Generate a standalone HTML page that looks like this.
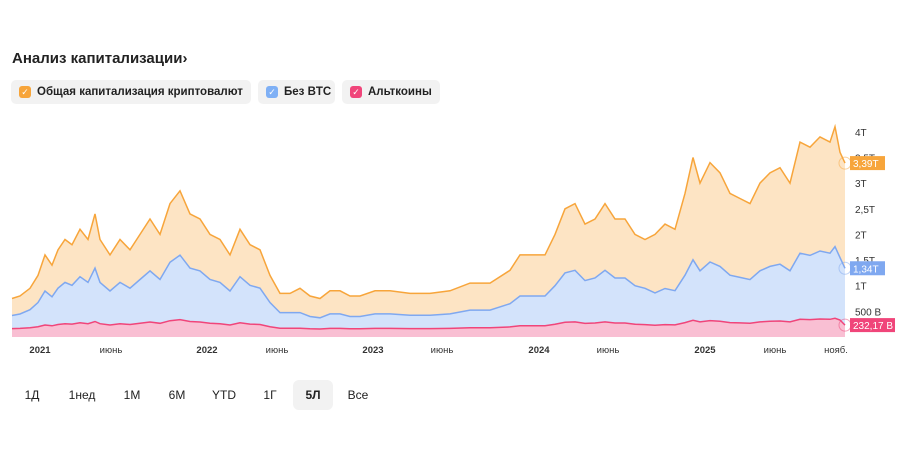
<!DOCTYPE html>
<html><head><meta charset="utf-8"><style>
body{margin:0;width:900px;height:450px;background:#fff;font-family:"Liberation Sans","DejaVu Sans",sans-serif;position:relative;overflow:hidden;color:#222}
.t{position:absolute;left:12px;top:50px;font-size:15px;font-weight:bold}
.chip{position:absolute;top:80px;height:24px;background:#f2f2f2;border-radius:5px;font-size:11.5px;font-weight:bold;line-height:24px;padding-left:26px;box-sizing:border-box;white-space:nowrap}
.chip i{position:absolute;left:8px;top:6px;width:12px;height:12px;border-radius:3px;color:#fff;font-size:9px;line-height:12px;text-align:center;font-style:normal}
.b{position:absolute;top:380px;height:30px;line-height:30px;font-size:12px;text-align:center}
.sel{background:#f2f2f2;border-radius:6px;font-weight:bold}
</style></head><body>
<div class="t">Анализ капитализации›</div>
<div class="chip" style="left:11px;width:240px"><i style="background:#f7a53b">✓</i>Общая капитализация криптовалют</div>
<div class="chip" style="left:258px;width:77px"><i style="background:#7fb0f5">✓</i>Без BTC</div>
<div class="chip" style="left:342px;width:98px"><i style="background:#f0457a">✓</i>Альткоины</div>
<svg id="s" width="900" height="450" style="position:absolute;left:0;top:0"></svg>
<div class="b" style="left:20px;width:24px">1Д</div>
<div class="b" style="left:64px;width:36px">1нед</div>
<div class="b" style="left:120px;width:24px">1М</div>
<div class="b" style="left:165px;width:24px">6М</div>
<div class="b" style="left:210px;width:28px">YTD</div>
<div class="b" style="left:258px;width:24px">1Г</div>
<div class="b sel" style="left:293px;width:40px">5Л</div>
<div class="b" style="left:343px;width:30px">Все</div>
<script>
var o=[[12,.75],[20,.8],[30,.95],[38,1.2],[45,1.6],[52,1.4],[58,1.7],[65,1.9],[72,1.8],[80,2.1],[88,1.9],[95,2.4],[100,1.9],[110,1.6],[120,1.9],[130,1.7],[140,2.0],[150,2.3],[160,2.0],[170,2.6],[180,2.85],[190,2.4],[200,2.3],[210,2.0],[220,1.9],[230,1.6],[240,2.1],[250,1.8],[260,1.7],[270,1.2],[280,.85],[290,.85],[300,.95],[310,.8],[320,.75],[330,.9],[340,.9],[350,.8],[360,.8],[375,.9],[390,.9],[410,.85],[430,.85],[450,.9],[470,1.05],[490,1.05],[510,1.3],[520,1.6],[530,1.6],[545,1.6],[555,2.0],[565,2.5],[575,2.6],[585,2.2],[595,2.3],[605,2.6],[615,2.3],[625,2.3],[635,2.0],[645,1.9],[655,2.0],[665,2.2],[675,2.1],[685,2.8],[693,3.5],[700,3.0],[710,3.4],[720,3.2],[730,2.8],[740,2.7],[750,2.6],[760,3.0],[770,3.2],[780,3.3],[790,3.0],[800,3.8],[810,3.7],[820,3.9],[830,3.8],[835,4.1],[840,3.6],[845,3.39]];
function Y(v){return 337-v*51.3}
function r(x){return x<300?0.56:x<650?0.5:0.43}
function p(f,c,fill){var d=o.map(function(a,i){return (i?'L':'M')+a[0]+' '+Y(f(a)).toFixed(1)}).join('');
return '<path d="'+d+'L845 337L12 337Z" fill="'+fill+'"/><path d="'+d+'" fill="none" stroke="'+c+'" stroke-width="1.5"/>';}
var h='';
h+=p(function(a){return a[1]},'#f7a53b','#fde4c4');
h+=p(function(a){return a[0]==845?1.34:a[1]*r(a[0])},'#7fa8f0','#d3e3fb');
h+=p(function(a){return a[0]==845?0.232:0.1+a[1]*r(a[0])*0.15},'#f0457a','#f9bfd3');
var yl=[[4,'4T'],[3.5,'3,5T'],[3,'3T'],[2.5,'2,5T'],[2,'2T'],[1.5,'1,5T'],[1,'1T'],[.5,'500 B']];
yl.forEach(function(a){h+='<text x="855" y="'+(Y(a[0])+4)+'" font-size="10" fill="#333">'+a[1]+'</text>'});
[[3.39,'3,39T','#f7a53b'],[1.34,'1,34T','#7fa8f0'],[.232,'232,17 B','#f0457a']].forEach(function(a){var y=Y(a[0]);
h+='<circle cx="845" cy="'+y+'" r="6" fill="none" stroke="'+a[2]+'" stroke-opacity=".5"/><rect x="850" y="'+(y-7)+'" width="'+(a[1].length>6?45:35)+'" height="14" fill="'+a[2]+'"/><text x="853" y="'+(y+4)+'" font-size="10" fill="#fff">'+a[1]+'</text>'});
[[40,'2021',1],[111,'июнь'],[207,'2022',1],[277,'июнь'],[373,'2023',1],[442,'июнь'],[539,'2024',1],[608,'июнь'],[705,'2025',1],[775,'июнь'],[836,'нояб.']].forEach(function(a){
h+='<text x="'+a[0]+'" y="353" font-size="9.5" text-anchor="middle" fill="#333"'+(a[2]?' font-weight="bold"':'')+'>'+a[1]+'</text>'});
document.getElementById('s').innerHTML=h;
</script>
</body></html>
